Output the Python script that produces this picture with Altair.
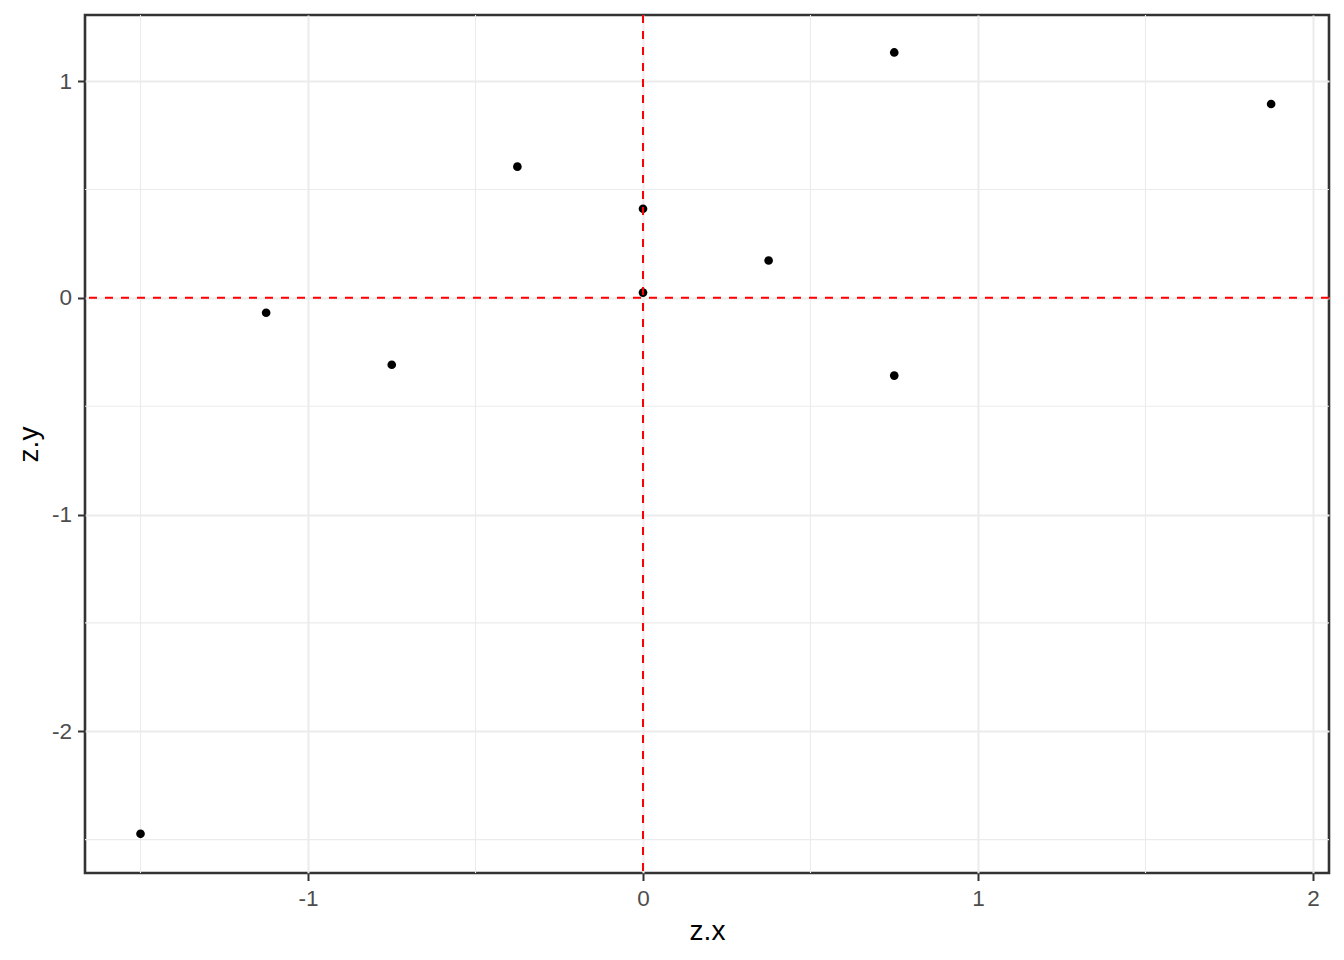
import altair as alt
import pandas as pd

zx = [-1.5, -1.125, -0.75, -0.375, 0.0, 0.0, 0.375, 0.75, 0.75, 1.875]
zy = [-2.473, -0.069, -0.309, 0.605, 0.411, 0.024, 0.172, 1.132, -0.359, 0.894]

x_major = [-1, 0, 1, 2]
x_minor = [-1.5, -0.5, 0.5, 1.5]
y_major = [-2, -1, 0, 1]
y_minor = [-2.5, -1.5, -0.5, 0.5]
x_domain = [-1.6657, 2.0478]
y_domain = [-2.6538, 1.3048]

pts = pd.DataFrame({"zx": zx, "zy": zy})
xs = alt.Scale(domain=x_domain, nice=False, zero=False)
ys = alt.Scale(domain=y_domain, nice=False, zero=False)

font = "Liberation Sans"
W, H = 1244, 858
lab_expr = "replace(format(datum.value, 'd'), '\u2212', '-')"

x_axis = alt.Axis(values=x_major, grid=True, gridColor="#EBEBEB", gridWidth=2,
                  domain=False, ticks=True, tickColor="#333333", tickSize=7.5, tickWidth=2,
                  labelColor="#4D4D4D", labelFontSize=22.5, labelFont=font,
                  labelBaseline="alphabetic", labelPadding=25, labelExpr=lab_expr,
                  title="z.x", titleFont=font, titleFontSize=28, titleFontWeight="normal",
                  titleColor="#000000", titleBaseline="alphabetic",
                  titleX=W / 2, titleY=66)
y_axis = alt.Axis(values=y_major, grid=True, gridColor="#EBEBEB", gridWidth=2,
                  domain=False, ticks=True, tickColor="#333333", tickSize=7.5, tickWidth=2,
                  labelColor="#4D4D4D", labelFontSize=22.5, labelFont=font,
                  labelPadding=6, labelExpr=lab_expr,
                  title="z.y", titleFont=font, titleFontSize=28, titleFontWeight="normal",
                  titleColor="#000000", titleBaseline="alphabetic", titleAngle=270,
                  titleX=-48, titleY=H / 2)

minor_x = alt.Chart(pd.DataFrame({"v": x_minor})).mark_rule(
    color="#EBEBEB", strokeWidth=1.1).encode(x=alt.X("v:Q", scale=xs, axis=x_axis))
minor_y = alt.Chart(pd.DataFrame({"v": y_minor})).mark_rule(
    color="#EBEBEB", strokeWidth=1.1).encode(y=alt.Y("v:Q", scale=ys, axis=y_axis))

points = alt.Chart(pts).mark_point(filled=True, color="black", opacity=1, size=75).encode(
    x=alt.X("zx:Q", scale=xs, axis=x_axis),
    y=alt.Y("zy:Q", scale=ys, axis=y_axis),
)

vline = alt.Chart(pd.DataFrame({"v": [0.0]})).mark_rule(
    color="#FF0000", strokeWidth=2, strokeDash=[8, 8], opacity=1).encode(
    x=alt.X("v:Q", scale=xs, axis=x_axis))
hline = alt.Chart(pd.DataFrame({"v": [0.0]})).mark_rule(
    color="#FF0000", strokeWidth=2, strokeDash=[8, 8], opacity=1).encode(
    y=alt.Y("v:Q", scale=ys, axis=y_axis))

chart = alt.layer(minor_x, minor_y, points, vline, hline).properties(
    width=W, height=H,
    autosize=alt.AutoSizeParams(type="none"),
    padding={"left": 77, "top": 7, "right": 7, "bottom": 80},
    background="white",
).configure_view(stroke="#333333", strokeWidth=2.6, fill="white")

chart.save("out.html", embed_options={"renderer": "svg", "actions": False})
